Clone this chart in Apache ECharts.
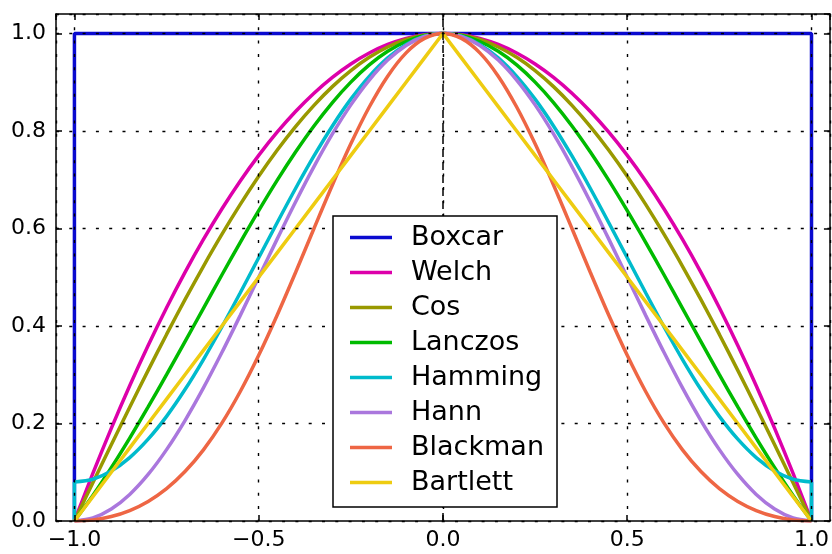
<!DOCTYPE html>
<html>
<head>
<meta charset="utf-8">
<script src="https://cdn.jsdelivr.net/npm/echarts@6/dist/echarts.min.js"></script>
<style>
html,body{margin:0;padding:0;background:#fff;}
#chart{width:832px;height:554px;}
</style>
</head>
<body>
<div id="chart"></div>
<script>
// ---- data ----
const xs = [-1, -0.95, -0.9, -0.85, -0.8, -0.75, -0.7, -0.65, -0.6, -0.55, -0.5, -0.45, -0.4, -0.35, -0.3, -0.25, -0.2, -0.15, -0.1, -0.05, 0,
            0.05, 0.1, 0.15, 0.2, 0.25, 0.3, 0.35, 0.4, 0.45, 0.5, 0.55, 0.6, 0.65, 0.7, 0.75, 0.8, 0.85, 0.9, 0.95, 1];

const boxcarX = [-1, -1, 1, 1];
const boxcarY = [0, 1, 1, 0];

const welch = [0, 0.0975, 0.19, 0.2775, 0.36, 0.4375, 0.51, 0.5775, 0.64, 0.6975, 0.75, 0.7975, 0.84, 0.8775, 0.91, 0.9375, 0.96, 0.9775, 0.99, 0.9975, 1,
               0.9975, 0.99, 0.9775, 0.96, 0.9375, 0.91, 0.8775, 0.84, 0.7975, 0.75, 0.6975, 0.64, 0.5775, 0.51, 0.4375, 0.36, 0.2775, 0.19, 0.0975, 0];

const cosw = [0, 0.0785, 0.1564, 0.2334, 0.309, 0.3827, 0.454, 0.5225, 0.5878, 0.6494, 0.7071, 0.7604, 0.809, 0.8526, 0.891, 0.9239, 0.9511, 0.9724, 0.9877, 0.9969, 1,
              0.9969, 0.9877, 0.9724, 0.9511, 0.9239, 0.891, 0.8526, 0.809, 0.7604, 0.7071, 0.6494, 0.5878, 0.5225, 0.454, 0.3827, 0.309, 0.2334, 0.1564, 0.0785, 0];

const lanczos = [0, 0.0524, 0.1093, 0.17, 0.2339, 0.3001, 0.3679, 0.4363, 0.5046, 0.5716, 0.6366, 0.6987, 0.7568, 0.8103, 0.8584, 0.9003, 0.9355, 0.9634, 0.9836, 0.9959, 1,
                 0.9959, 0.9836, 0.9634, 0.9355, 0.9003, 0.8584, 0.8103, 0.7568, 0.6987, 0.6366, 0.5716, 0.5046, 0.4363, 0.3679, 0.3001, 0.2339, 0.17, 0.1093, 0.0524, 0];

const hamming = [0.08, 0.0857, 0.1025, 0.1301, 0.1679, 0.2147, 0.2696, 0.3312, 0.3979, 0.4681, 0.54, 0.6119, 0.6821, 0.7488, 0.8104, 0.8653, 0.9121, 0.9499, 0.9775, 0.9943, 1,
                 0.9943, 0.9775, 0.9499, 0.9121, 0.8653, 0.8104, 0.7488, 0.6821, 0.6119, 0.54, 0.4681, 0.3979, 0.3312, 0.2696, 0.2147, 0.1679, 0.1301, 0.1025, 0.0857, 0.08];
const hammingEdgeBase = 0;

const hann = [0, 0.0062, 0.0245, 0.0545, 0.0955, 0.1464, 0.2061, 0.273, 0.3455, 0.4218, 0.5, 0.5782, 0.6545, 0.727, 0.7939, 0.8536, 0.9045, 0.9455, 0.9755, 0.9938, 1,
              0.9938, 0.9755, 0.9455, 0.9045, 0.8536, 0.7939, 0.727, 0.6545, 0.5782, 0.5, 0.4218, 0.3455, 0.273, 0.2061, 0.1464, 0.0955, 0.0545, 0.0245, 0.0062, 0];

const blackman = [0, 0.0022, 0.0092, 0.0215, 0.0402, 0.0664, 0.1014, 0.146, 0.2008, 0.2657, 0.34, 0.4221, 0.5098, 0.6, 0.6892, 0.7736, 0.8492, 0.9125, 0.9603, 0.9899, 1,
                  0.9899, 0.9603, 0.9125, 0.8492, 0.7736, 0.6892, 0.6, 0.5098, 0.4221, 0.34, 0.2657, 0.2008, 0.146, 0.1014, 0.0664, 0.0402, 0.0215, 0.0092, 0.0022, 0];

const bartlett = [0, 0.05, 0.1, 0.15, 0.2, 0.25, 0.3, 0.35, 0.4, 0.45, 0.5, 0.55, 0.6, 0.65, 0.7, 0.75, 0.8, 0.85, 0.9, 0.95, 1,
                  0.95, 0.9, 0.85, 0.8, 0.75, 0.7, 0.65, 0.6, 0.55, 0.5, 0.45, 0.4, 0.35, 0.3, 0.25, 0.2, 0.15, 0.1, 0.05, 0];

const names = ['Boxcar', 'Welch', 'Cos', 'Lanczos', 'Hamming', 'Hann', 'Blackman', 'Bartlett'];
const colors = ['#0a0ad0', '#dd00aa', '#999900', '#00bb00', '#00bbcc', '#aa77dd', '#ee6644', '#eecc11'];
const xTicks = [-1.0, -0.5, 0.0, 0.5, 1.0];
const yTicks = [0.0, 0.2, 0.4, 0.6, 0.8, 1.0];

// ---- build ----
const pair = (X, Y) => X.map((x, i) => [x, Y[i]]);
const FONT = 'DejaVu Sans';
const minus = v => String(v).replace('-', '\u2212');

function fmtX(v) {
  const hit = xTicks.find(t => Math.abs(t - v) < 1e-6);
  return hit === undefined ? '' : minus(hit.toFixed(1));
}
function fmtY(v) {
  const hit = yTicks.find(t => Math.abs(t - v) < 1e-6);
  return hit === undefined ? '' : minus(hit.toFixed(1));
}

const LW = 3.5;
function lineSeries(name, data, color, smooth, extra) {
  return Object.assign({
    name: name, type: 'line', data: data, smooth: smooth,
    symbol: 'none', showSymbol: false, animation: false,
    lineStyle: { color: color, width: LW }, itemStyle: { color: color },
    z: 2
  }, extra || {});
}

const n = xs.length;
const series = [
  lineSeries('Boxcar', pair(boxcarX, boxcarY), colors[0], false),
  lineSeries('Welch', pair(xs, welch), colors[1], 0.3),
  lineSeries('Cos', pair(xs, cosw), colors[2], 0.3),
  lineSeries('Lanczos', pair(xs, lanczos), colors[3], 0.3),
  lineSeries('Hamming', pair(xs, hamming), colors[4], 0.3),
  lineSeries('Hamming', [[xs[0], hammingEdgeBase], [xs[0], hamming[0]]], colors[4], false),
  lineSeries('Hamming', [[xs[n - 1], hamming[n - 1]], [xs[n - 1], hammingEdgeBase]], colors[4], false),
  lineSeries('Hann', pair(xs, hann), colors[5], 0.3),
  lineSeries('Blackman', pair(xs, blackman), colors[6], 0.3),
  lineSeries('Bartlett', pair(xs, bartlett), colors[7], false, {
    markLine: {
      silent: true, symbol: 'none', animation: false,
      label: { show: false },
      lineStyle: { color: '#000', width: 1.5, type: [8, 5] },
      data: [{ xAxis: 0 }]
    }
  })
];

const gridDots = { show: true, lineStyle: { color: '#000', width: 1.4, type: [3, 10.3] } };
const axisLine = { show: true, onZero: false, lineStyle: { color: '#000', width: 1.5 } };
const tick = { show: true, inside: true, length: 6, lineStyle: { color: '#000', width: 1.5 } };

const option = {
  backgroundColor: '#fff',
  animation: false,
  color: colors,
  grid: { left: 56, top: 14, right: 1, bottom: 33, containLabel: false },
  legend: {
    data: names,
    orient: 'vertical',
    left: 333, top: 216,
    backgroundColor: '#fff',
    borderColor: '#000', borderWidth: 1.5, borderRadius: 0,
    padding: [4, 13, 7, 17],
    icon: 'rect',
    itemWidth: 42, itemHeight: LW, itemGap: 0,
    textStyle: { fontFamily: FONT, fontSize: 27, color: '#000', lineHeight: 35, padding: [0, 0, 0, 14] },
    z: 10
  },
  xAxis: [
    { type: 'value', min: -1.05, max: 1.05, splitNumber: 4, z: 3,
      axisLine: axisLine, axisTick: tick, splitLine: gridDots,
      axisLabel: { show: true, formatter: fmtX, margin: 8, fontFamily: FONT, fontSize: 22, color: '#000', showMinLabel: false, showMaxLabel: false } },
    { type: 'value', position: 'top', min: -1.05, max: 1.05, splitNumber: 4, z: 3,
      axisLine: axisLine, axisTick: tick, splitLine: { show: false }, axisLabel: { show: false } }
  ],
  yAxis: [
    { type: 'value', min: 0, max: 1.04, interval: 0.2, z: 3,
      axisLine: axisLine, axisTick: tick, splitLine: gridDots,
      axisLabel: { show: true, formatter: fmtY, margin: 10, fontFamily: FONT, fontSize: 22, color: '#000', showMaxLabel: false } },
    { type: 'value', position: 'right', min: 0, max: 1.04, interval: 0.2, z: 3,
      axisLine: axisLine, axisTick: tick, splitLine: { show: false }, axisLabel: { show: false } }
  ],
  series: series
};

const chart = echarts.init(document.getElementById('chart'), null, { renderer: 'canvas' });
chart.setOption(option);
</script>
</body>
</html>
